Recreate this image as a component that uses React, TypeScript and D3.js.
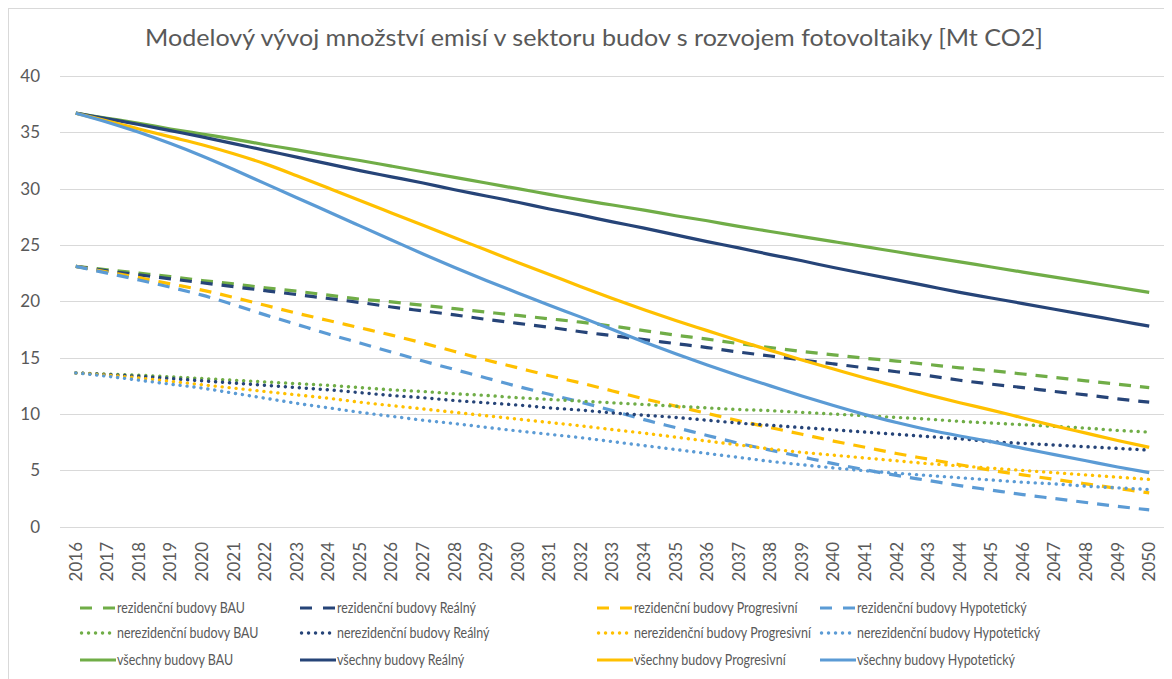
import React, { useEffect, useRef } from "react";
import * as d3 from "d3";

// years on the x axis
const years = d3.range(2016, 2051).map(String);

// scenarios and categories
const scenarios = ["BAU", "Reálný", "Progresivní", "Hypotetický"];
const groups = ["rezidenční budovy", "nerezidenční budovy", "všechny budovy"];

// rezidenční budovy [Mt CO2]
const rezBAU = [23.1, 22.8, 22.5, 22.2, 21.85, 21.55, 21.2, 20.9, 20.55, 20.2, 19.95, 19.65, 19.35, 19.05, 18.75, 18.45, 18.15, 17.8, 17.4, 17.0, 16.65, 16.25, 15.9, 15.55, 15.25, 14.95, 14.7, 14.4, 14.1, 13.85, 13.55, 13.25, 12.95, 12.65, 12.35];
const rezReal = [23.1, 22.7, 22.35, 22.0, 21.65, 21.3, 20.95, 20.6, 20.25, 19.9, 19.5, 19.15, 18.8, 18.4, 18.05, 17.7, 17.3, 16.95, 16.6, 16.25, 15.9, 15.5, 15.15, 14.8, 14.45, 14.1, 13.75, 13.4, 13.0, 12.65, 12.35, 12.0, 11.7, 11.35, 11.05];
const rezProg = [23.1, 22.6, 22.1, 21.55, 21.0, 20.35, 19.65, 18.95, 18.3, 17.65, 17.0, 16.3, 15.55, 14.8, 14.1, 13.4, 12.75, 12.05, 11.35, 10.7, 10.05, 9.4, 8.8, 8.2, 7.6, 7.05, 6.5, 6.0, 5.5, 5.0, 4.6, 4.2, 3.8, 3.4, 3.0];
const rezHyp = [23.1, 22.5, 21.9, 21.25, 20.55, 19.7, 18.8, 17.95, 17.1, 16.3, 15.5, 14.7, 13.95, 13.2, 12.45, 11.75, 11.05, 10.3, 9.5, 8.8, 8.1, 7.4, 6.8, 6.2, 5.6, 5.05, 4.55, 4.1, 3.65, 3.25, 2.85, 2.5, 2.15, 1.8, 1.5];

// nerezidenční budovy [Mt CO2]
const nerezBAU = [13.65, 13.55, 13.45, 13.3, 13.15, 13.0, 12.85, 12.7, 12.55, 12.35, 12.15, 12.0, 11.8, 11.65, 11.45, 11.3, 11.15, 11.0, 10.85, 10.7, 10.55, 10.4, 10.3, 10.15, 10.0, 9.85, 9.7, 9.55, 9.35, 9.2, 9.05, 8.9, 8.75, 8.55, 8.4];
const nerezReal = [13.65, 13.5, 13.35, 13.15, 12.95, 12.75, 12.55, 12.35, 12.15, 11.9, 11.65, 11.45, 11.2, 11.0, 10.8, 10.55, 10.35, 10.1, 9.9, 9.7, 9.45, 9.2, 9.0, 8.8, 8.6, 8.4, 8.2, 8.0, 7.8, 7.55, 7.4, 7.25, 7.1, 6.95, 6.8];
const nerezProg = [13.65, 13.45, 13.2, 12.9, 12.6, 12.3, 12.0, 11.7, 11.4, 11.05, 10.75, 10.45, 10.15, 9.85, 9.55, 9.25, 8.95, 8.62, 8.3, 7.95, 7.6, 7.25, 6.9, 6.6, 6.35, 6.1, 5.85, 5.6, 5.4, 5.2, 5.0, 4.8, 4.6, 4.4, 4.2];
const nerezHyp = [13.65, 13.35, 13.0, 12.65, 12.3, 11.85, 11.4, 10.95, 10.55, 10.15, 9.8, 9.45, 9.15, 8.82, 8.5, 8.2, 7.9, 7.55, 7.2, 6.85, 6.5, 6.15, 5.8, 5.5, 5.22, 4.97, 4.75, 4.55, 4.35, 4.15, 3.95, 3.8, 3.6, 3.45, 3.3];

// všechny budovy [Mt CO2]
const vseBAU = [36.7, 36.25, 35.8, 35.3, 34.85, 34.4, 33.9, 33.45, 32.95, 32.5, 32.0, 31.5, 31.0, 30.5, 30.0, 29.5, 29.0, 28.55, 28.1, 27.6, 27.15, 26.65, 26.2, 25.75, 25.3, 24.85, 24.4, 23.95, 23.5, 23.05, 22.6, 22.15, 21.7, 21.25, 20.8];
const vseReal = [36.7, 36.2, 35.7, 35.15, 34.6, 34.0, 33.4, 32.8, 32.2, 31.6, 31.05, 30.5, 29.9, 29.35, 28.8, 28.2, 27.65, 27.05, 26.5, 25.9, 25.3, 24.75, 24.15, 23.6, 23.0, 22.45, 21.9, 21.35, 20.8, 20.3, 19.8, 19.3, 18.8, 18.3, 17.8];
const vseProg = [36.7, 36.0, 35.3, 34.6, 33.9, 33.1, 32.2, 31.15, 30.05, 28.95, 27.85, 26.75, 25.65, 24.55, 23.45, 22.38, 21.3, 20.25, 19.25, 18.3, 17.4, 16.5, 15.65, 14.8, 14.0, 13.2, 12.45, 11.7, 11.0, 10.35, 9.65, 8.95, 8.3, 7.65, 7.05];
const vseHyp = [36.7, 35.9, 35.0, 34.0, 32.9, 31.7, 30.45, 29.2, 27.95, 26.7, 25.45, 24.2, 23.0, 21.85, 20.75, 19.65, 18.6, 17.5, 16.4, 15.35, 14.35, 13.4, 12.5, 11.6, 10.75, 9.95, 9.25, 8.6, 8.05, 7.55, 6.95, 6.4, 5.85, 5.3, 4.8];

const yTicks = [0, 5, 10, 15, 20, 25, 30, 35, 40];

const title = "Modelový vývoj množství emisí v sektoru budov s rozvojem fotovoltaiky [Mt CO2]";

const colors = ["#70AD47", "#264478", "#FFC000", "#5B9BD5"];
const dashes = ["12 9", "0.1 6.9", null];

const seriesValues = [
  [rezBAU, rezReal, rezProg, rezHyp],
  [nerezBAU, nerezReal, nerezProg, nerezHyp],
  [vseBAU, vseReal, vseProg, vseHyp],
];

const font = "Lato, 'Open Sans', sans-serif";
const textColor = "#595959";

export default function App() {
  const ref = useRef<SVGSVGElement>(null);

  useEffect(() => {
    const W = 1164,
      H = 671;
    const svg = d3.select(ref.current);
    svg.selectAll("*").remove();
    svg.attr("width", W).attr("height", H);

    svg
      .append("rect")
      .attr("x", 0.5)
      .attr("y", 0.5)
      .attr("width", W + 20)
      .attr("height", H + 20)
      .attr("fill", "#fff")
      .attr("stroke", "#d9d9d9");

    // plot area
    const left = 52,
      right = 1157,
      top = 68,
      bottom = 518.7;

    const x = d3.scalePoint().domain(years).range([left, right]).padding(0.5);
    const y = d3.scaleLinear().domain([0, 40]).range([bottom, top]);

    // gridlines
    svg
      .append("g")
      .selectAll("line")
      .data(yTicks)
      .join("line")
      .attr("x1", left)
      .attr("x2", right)
      .attr("y1", (d) => Math.round(y(d)) + 0.5)
      .attr("y2", (d) => Math.round(y(d)) + 0.5)
      .attr("stroke", "#d9d9d9")
      .attr("stroke-width", 1);

    // y labels
    svg
      .append("g")
      .selectAll("text")
      .data(yTicks)
      .join("text")
      .attr("x", 32)
      .attr("y", (d) => y(d))
      .attr("dy", "0.35em")
      .attr("text-anchor", "end")
      .attr("font-family", font)
      .attr("font-size", 17)
      .attr("fill", textColor)
      .text((d) => d);

    // x labels, rotated
    svg
      .append("g")
      .selectAll("text")
      .data(years)
      .join("text")
      .attr("transform", (d) => `translate(${x(d)}, 534) rotate(-90)`)
      .attr("dy", "0.35em")
      .attr("text-anchor", "end")
      .attr("font-family", font)
      .attr("font-size", 17)
      .attr("fill", textColor)
      .text((d) => d);

    // lines
    const line = d3
      .line<number>()
      .x((d, i) => x(years[i]) as number)
      .y((d) => y(d))
      .curve(d3.curveMonotoneX);

    const lines = svg.append("g");
    seriesValues.forEach((row, gi) => {
      row.forEach((vals, si) => {
        const p = lines
          .append("path")
          .attr("d", line(vals))
          .attr("fill", "none")
          .attr("stroke", colors[si])
          .attr("stroke-width", gi === 1 ? 3.4 : 3.2)
          .attr("stroke-linecap", gi === 1 ? "round" : "butt")
          .attr("stroke-linejoin", "round");
        if (dashes[gi]) p.attr("stroke-dasharray", dashes[gi]);
      });
    });

    // title
    svg
      .append("text")
      .attr("x", 586)
      .attr("y", 38)
      .attr("text-anchor", "middle")
      .attr("font-family", font)
      .attr("font-size", 24)
      .attr("textLength", 898)
      .attr("lengthAdjust", "spacingAndGlyphs")
      .attr("fill", textColor)
      .text(title);

    // legend
    const legSymX = [72, 292, 589, 812];
    const legRowY = [600, 625, 652];
    const legend = svg.append("g");
    groups.forEach((g, gi) => {
      scenarios.forEach((s, si) => {
        const ly = legRowY[gi];
        const lx = legSymX[si];
        const sym = legend
          .append("line")
          .attr("x1", lx + (gi === 1 ? 1.5 : 0))
          .attr("x2", lx + 36)
          .attr("y1", ly)
          .attr("y2", ly)
          .attr("stroke", colors[si])
          .attr("stroke-width", gi === 1 ? 3.4 : 3.2)
          .attr("stroke-linecap", gi === 1 ? "round" : "butt");
        if (gi === 0) sym.attr("stroke-dasharray", "12 11");
        if (gi === 1) sym.attr("stroke-dasharray", "0.1 6.9");
        legend
          .append("text")
          .attr("transform", `translate(${lx + 37}, ${ly}) scale(0.86, 1)`)
          .attr("dy", "0.35em")
          .attr("font-family", font)
          .attr("font-size", 14.5)
          .attr("fill", textColor)
          .text(`${g} ${s}`);
      });
    });
  }, []);

  return <svg ref={ref} style={{ display: "block" }}></svg>;
}
